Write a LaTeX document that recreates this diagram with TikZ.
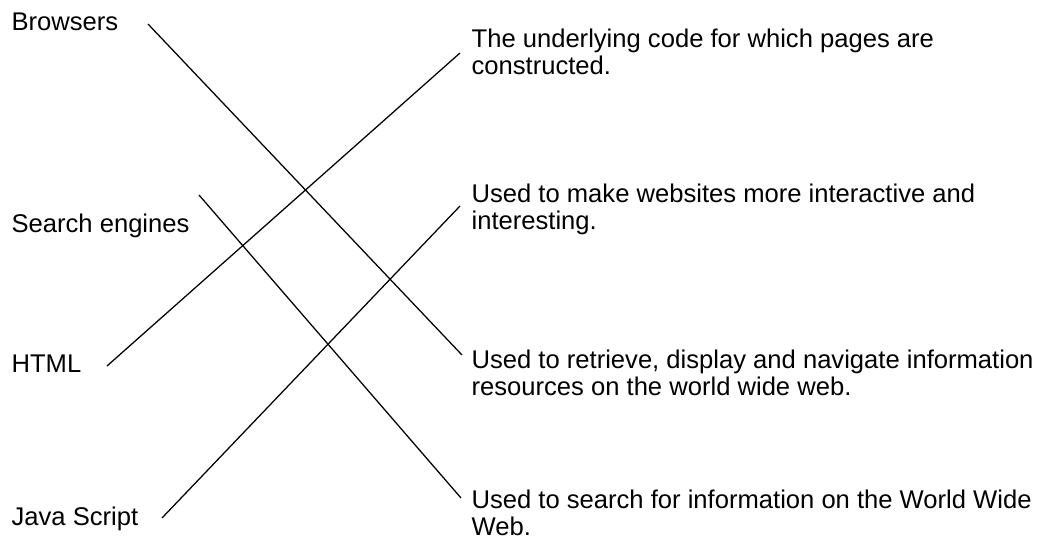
\documentclass[tikz,border=0pt]{standalone}
\usepackage{fontspec}
\setmainfont{Liberation Sans}
\begin{document}
\begin{tikzpicture}[x=0.025cm, y=-0.025cm, line width=0.9pt,
  term/.style={anchor=base west, inner sep=0pt, font=\fontsize{18.2}{19.2}\selectfont},
  desc/.style={anchor=north west, inner sep=0pt, align=left, font=\fontsize{18.2}{19.2}\selectfont}]

\useasboundingbox (0,0) rectangle (1042,539);

% Terms (left column)
\node (brow) at (11,30)  [term] {Browsers};
\node (srch) at (11,232) [term] {Search engines};
\node (html) at (11,372) [term] {HTML};
\node (java) at (11,525) [term] {Java Script};

% Descriptions (right column)
\node (dcode) at (471,28)  [desc] {The underlying code for which pages are\\constructed.};
\node (dint)  at (471,183) [desc] {Used to make websites more interactive and\\interesting.};
\node (dret)  at (471,349) [desc] {Used to retrieve, display and navigate information\\resources on the world wide web.};
\node (dsrch) at (471,489) [desc] {Used to search for information on the World Wide\\Web.};

% Line ends
\coordinate (brow-e) at (148,24);
\coordinate (srch-e) at (199,195);
\coordinate (html-e) at (107,366);
\coordinate (java-e) at (162,518);
\coordinate (dcode-w) at (460,53);
\coordinate (dint-w)  at (460,206);
\coordinate (dret-w)  at (462,355);
\coordinate (dsrch-w) at (461,498);

% Matching lines
\draw (brow-e) -- (dret-w);
\draw (srch-e) -- (dsrch-w);
\draw (html-e) -- (dcode-w);
\draw (java-e) -- (dint-w);

\end{tikzpicture}
\end{document}
